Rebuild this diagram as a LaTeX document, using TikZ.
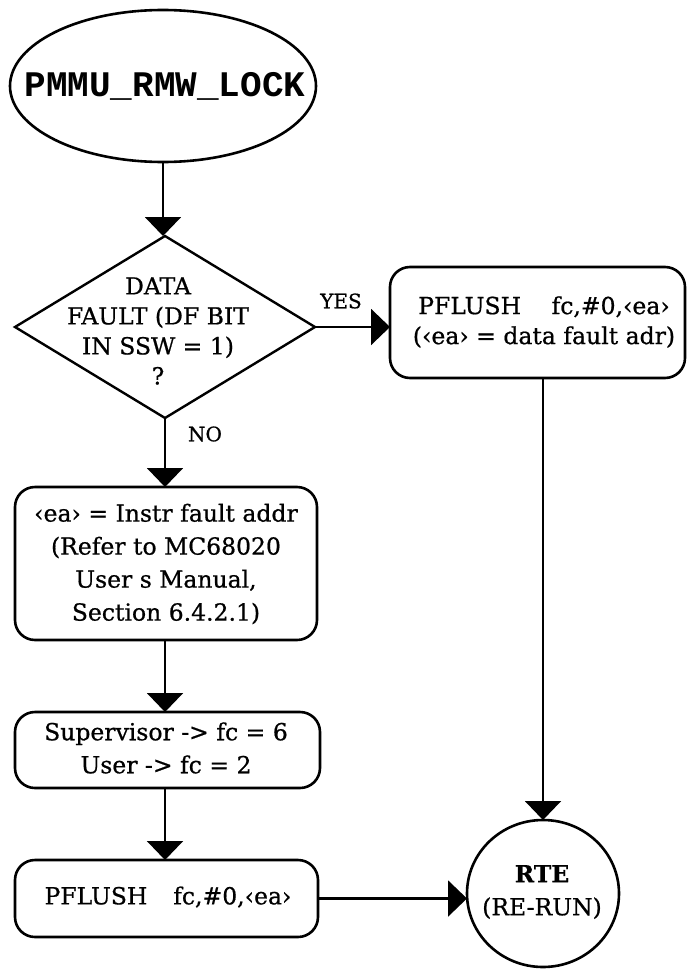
\documentclass[tikz,border=0pt]{standalone}
\usepackage{fontspec}
\setmainfont{DejaVu Serif}[FakeBold=0.7]
\newfontfamily\monob{Liberation Mono}
\usetikzlibrary{arrows.meta,shapes.geometric}
\begin{document}
\begin{tikzpicture}[x=1pt,y=-1pt,
  txt/.style={font=\fontsize{23.5}{33}\selectfont, align=center, inner sep=0pt},
  lbl/.style={font=\fontsize{20}{24}\selectfont, inner sep=0pt},
  arr/.style={-{Triangle[width=36pt,length=19pt]}, line width=2.2pt},
  rbox/.style={draw, line width=2.6pt, rounded corners=20pt, inner sep=0pt, outer sep=0pt},
  oval/.style={draw, ellipse, line width=2.6pt, inner sep=0pt, outer sep=0pt},
  dia/.style={draw, diamond, line width=2.4pt, inner sep=0pt, outer sep=0pt}]
\useasboundingbox (0,0) rectangle (686,969);

% start ellipse
\node[oval, minimum width=306pt, minimum height=152pt] (start) at (163,86) {};
\node[inner sep=0pt, font=\monob\bfseries\fontsize{36}{36}\selectfont] (starttxt) at (165,86) {PMMU\_RMW\_LOCK};

% decision diamond
\node[dia, minimum width=300pt, minimum height=182pt] (dec) at (165,327) {};
\node[txt, font=\fontsize{23.5}{30}\selectfont] (dectxt) at (158,331) {DATA\\FAULT (DF BIT\\IN SSW = 1)\\?};

% right box
\node[rbox, minimum width=295pt, minimum height=111pt] (pf1) at (537.5,322.5) {};
\node[txt, font=\fontsize{23.5}{30}\selectfont] (pf1txt) at (544,322) {PFLUSH\hspace{1.3em}fc,\#0,‹ea›\\(‹ea› = data fault adr)};

% instr fault box
\node[rbox, minimum width=302pt, minimum height=153pt] (ifa) at (166,563.5) {};
\node[txt] (ifatxt) at (166,564) {‹ea› = Instr fault addr\\(Refer to MC68020\\User s Manual,\\Section 6.4.2.1)};

% supervisor box
\node[rbox, minimum width=305pt, minimum height=76pt] (sup) at (167.5,750) {};
\node[txt] (suptxt) at (166,748) {Supervisor -> fc = 6\\User -> fc = 2};

% bottom pflush box
\node[rbox, minimum width=303pt, minimum height=77pt] (pf2) at (166.5,898.5) {};
\node[txt] (pf2txt) at (168,897) {PFLUSH\hspace{1.1em}fc,\#0,‹ea›};

% RTE circle
\node[oval, minimum width=152pt, minimum height=147pt] (rte) at (543,893.5) {};
\node[txt] (rtetxt) at (542,892) {\textbf{RTE}\\(RE-RUN)};

% labels
\node[lbl] (yes) at (341,301) {YES};
\node[lbl] (no) at (205,434) {NO};

% connectors
\draw[arr] (start.south) -- (start.south |- dec.north);
\draw[arr] (dec.east) -- (dec.east -| pf1.west);
\draw[arr] (dec.south) -- (dec.south |- ifa.north);
\draw[arr] (ifa.south -| dec.south) -- (sup.north -| dec.south);
\draw[arr] (sup.south -| dec.south) -- (pf2.north -| dec.south);
\draw[arr] (pf2.east) -- (pf2.east -| rte.west);
\draw[arr] (pf1.south -| rte.north) -- (rte.north);
\end{tikzpicture}
\end{document}
